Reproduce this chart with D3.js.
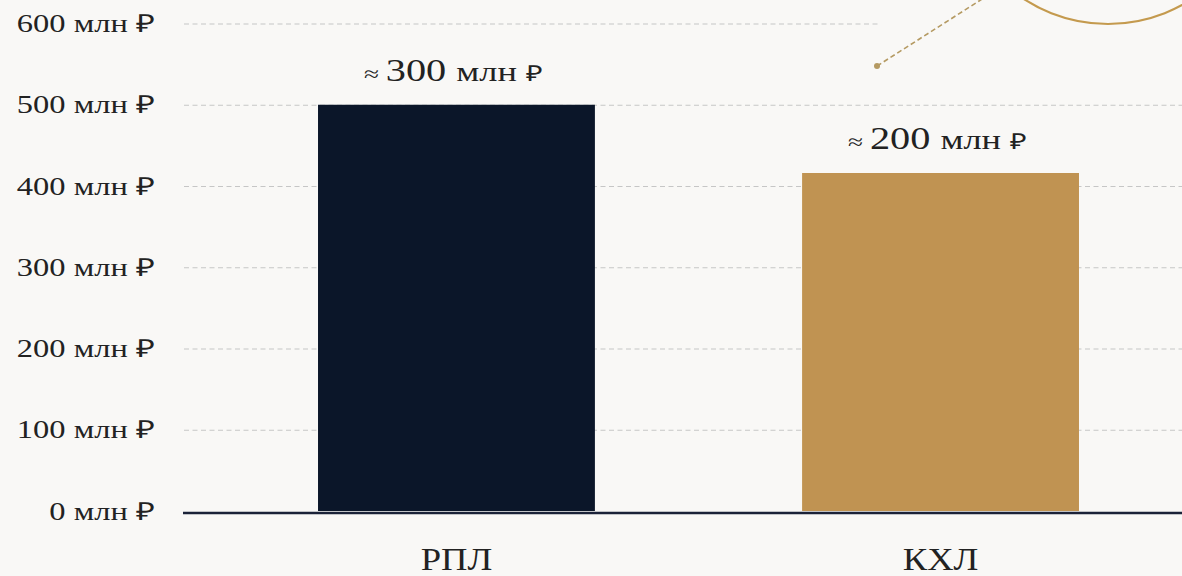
<!DOCTYPE html>
<html>
<head>
<meta charset="utf-8">
<script src="https://cdn.jsdelivr.net/npm/d3@7"></script>
<style>
  body { margin: 0; background: #f9f8f6; }
  text { font-family: "Liberation Serif", "Times New Roman", serif; fill: #222; }
</style>
</head>
<body>
<div id="chart"></div>
<script>
// data
var leagues = ["РПЛ", "КХЛ"];
var budgets = [500, 416];
var budgetLabels = ["≈ 300 млн ₽", "≈ 200 млн ₽"];
var yTicks = [0, 100, 200, 300, 400, 500, 600];
var barColors = ["#0b1629", "#c09352"];

var width = 1182,
  height = 576,
  sx = 1.3; // the picture is stretched sideways

var svg = d3
  .select("#chart")
  .append("svg")
  .attr("width", width)
  .attr("height", height);

svg.append("rect").attr("width", width).attr("height", height).attr("fill", "#f9f8f6");

var x = d3.scaleBand().domain(leagues).range([197, 1200]).paddingInner(0.428).paddingOuter(0.25);
var y = d3.scaleLinear().domain([0, 600]).range([511, 23.5]);

// decoration: gold ring top right and a dotted pointer
svg
  .append("circle")
  .attr("cx", 1108)
  .attr("cy", -130)
  .attr("r", 154)
  .attr("fill", "none")
  .attr("stroke", "#c49a4e")
  .attr("stroke-width", 2.2);

svg
  .append("line")
  .attr("x1", 877)
  .attr("y1", 66)
  .attr("x2", 990)
  .attr("y2", -6)
  .attr("stroke", "#b59a62")
  .attr("stroke-width", 1.6)
  .attr("stroke-dasharray", "5,3");

svg.append("circle").attr("cx", 877).attr("cy", 66).attr("r", 3).attr("fill", "#b59a62");

// y axis with gridlines
var gridLeft = 184;
var yAxis = svg
  .append("g")
  .attr("transform", "translate(" + gridLeft + ",0)")
  .call(
    d3
      .axisLeft(y)
      .tickValues(yTicks)
      .tickSize(-(width - gridLeft))
      .tickFormat((d) => d + " млн ₽")
  );

yAxis.select(".domain").remove();
yAxis
  .selectAll(".tick line")
  .attr("stroke", "#c6c6c6")
  .attr("stroke-width", 1.2)
  .attr("stroke-dasharray", "5,3.5")
  .attr("x2", (d) => (d === 600 ? 878 - gridLeft : width - gridLeft))
  .attr("opacity", (d) => (d === 0 ? 0 : 1));

yAxis
  .selectAll(".tick text")
  .attr("x", 0)
  .attr("dy", "0.32em")
  .attr("font-size", 25)
  .attr("fill", "#1e1e1e")
  .attr("text-anchor", "end")
  .attr("transform", "translate(-29,0) scale(" + sx + ",1)");

// bars
svg
  .append("g")
  .selectAll("rect")
  .data(leagues)
  .join("rect")
  .attr("x", (d) => x(d))
  .attr("y", (d, i) => y(budgets[i]))
  .attr("width", x.bandwidth())
  .attr("height", (d, i) => y(0) - y(budgets[i]))
  .attr("fill", (d, i) => barColors[i]);

// baseline
svg
  .append("line")
  .attr("x1", 183)
  .attr("x2", width)
  .attr("y1", y(0) + 2)
  .attr("y2", y(0) + 2)
  .attr("stroke", "#1b2238")
  .attr("stroke-width", 2.5);

// value labels over the bars; the ≈ and ₽ are set smaller
var partSizes = [21, 31, 28, 22];
svg
  .append("g")
  .selectAll("text")
  .data(leagues)
  .join("text")
  .attr("text-anchor", "middle")
  .attr("fill", "#1e1e1e")
  .attr("transform", (d, i) => "translate(" + (x(d) + x.bandwidth() / 2 - 3) + "," + (y(budgets[i]) - 24) + ") scale(" + sx + ",1)")
  .each(function (d, i) {
    var parts = budgetLabels[i].split(" ");
    d3.select(this)
      .selectAll("tspan")
      .data(parts)
      .join("tspan")
      .attr("font-size", (p, j) => partSizes[j])
      .text((p, j) => (j < parts.length - 1 ? p + " " : p));
  });

// category axis
var xAxis = svg
  .append("g")
  .attr("transform", "translate(0," + y(0) + ")")
  .call(d3.axisBottom(x).tickSize(0));

xAxis.select(".domain").remove();
xAxis
  .selectAll(".tick text")
  .attr("y", 0)
  .attr("dy", 0)
  .attr("font-size", 31)
  .attr("fill", "#1e1e1e")
  .attr("transform", "translate(0,59) scale(1.18,1)");
</script>
</body>
</html>
